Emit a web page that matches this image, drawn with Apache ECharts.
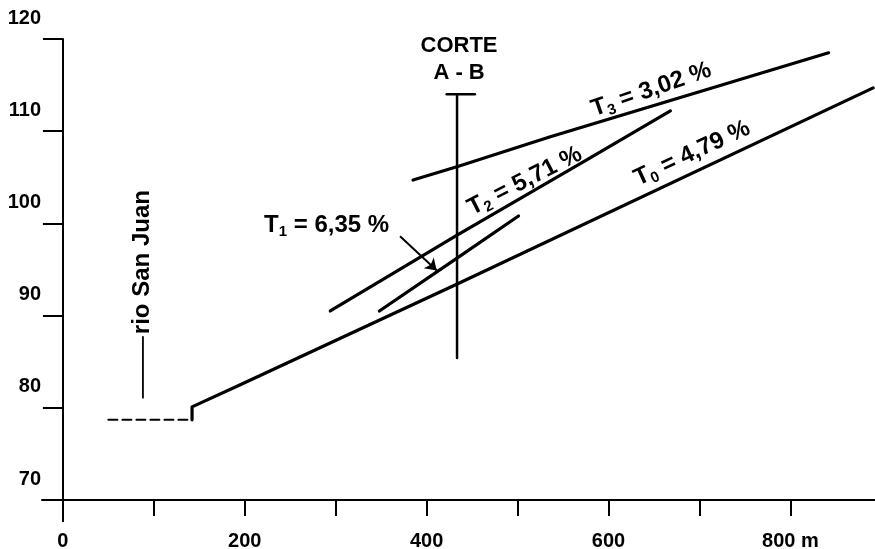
<!DOCTYPE html>
<html>
<head>
<meta charset="utf-8">
<script src="https://cdn.jsdelivr.net/npm/echarts@6/dist/echarts.min.js"></script>
<style>
html,body{margin:0;padding:0;background:#fff;}
#c{width:875px;height:549px;}
</style>
</head>
<body>
<div id="c"></div>
<script>
// ---- data (distance in m, elevation in m) ----
const xTickValues = [100, 200, 300, 400, 500, 600, 700, 800];
const xLabelValues = [0, 200, 400, 600, 800];
const yTickValues = [70, 80, 90, 100, 110, 120];

const riverLevel = [[50, 78.7], [142, 78.7]];
const terraceT0 = [[142, 78.7], [142, 80.1], [195, 82.5], [433, 93.4], [891, 114.7]];
const terraceT1 = [[348, 90.5], [433, 96.2], [501, 100.8]];
const terraceT2 = [[294, 90.5], [433, 98.7], [576, 106.9], [668, 112.2]];
const terraceT3 = [[385, 104.7], [435, 106.2], [536, 109.4], [842, 118.5]];
const corteLine = [[433.4, 85.4], [433.4, 114.0]];
const corteCap = [[422, 114.0], [453, 114.0]];
const riverLeader = [[88, 81.1], [88, 87.7]];
const t1Arrow = [[370.7, 98.6], [411.1, 94.9]];

const labelTexts = ['CORTE', 'A - B', 'T{s|3} = 3,02 %', 'T{s|0} = 4,79 %', 'T{s|2} = 5,71 %', 'T{s|1} = 6,35 %', 'rio San Juan'];
const labelAnchors = [[435.6, 119.2], [435.6, 116.3], [647, 114.5], [692, 107.6], [508, 104.6], [290, 99.8], [87, 95.8]];
const labelAngles = [0, 0, 19, 25, 27, 0, 90];

// ---- chart ----
const FONT = "'Liberation Sans', Arial, sans-serif";
const chart = echarts.init(document.getElementById('c'));

function lineSeries(data, width, type) {
  return {
    type: 'line', data: data, symbol: 'none', silent: true, animation: false,
    xAxisIndex: 0, yAxisIndex: 0,
    lineStyle: { color: '#000', width: width, type: type || 'solid', cap: 'round', join: 'round', opacity: 1 }
  };
}

const labelData = labelTexts.map((t, i) => ({
  value: labelAnchors[i],
  label: { formatter: t, rotate: labelAngles[i], color: '#000', fontSize: (i < 2 ? 22 : 24) }
}));

chart.setOption({
  animation: false,
  backgroundColor: '#fff',
  grid: { left: 42, right: 0, top: 39, bottom: 49, containLabel: false, outerBoundsMode: 'none' },
  xAxis: [{
    type: 'value', min: -23, max: 893, position: 'bottom',
    axisLine: { show: true, onZero: false, lineStyle: { color: '#000', width: 2 } },
    axisTick: { show: true, length: 16, customValues: xTickValues, lineStyle: { color: '#000', width: 2 } },
    axisLabel: {
      customValues: xLabelValues, margin: 31, color: '#000', fontSize: 20, fontFamily: FONT, fontWeight: 'bold',
      formatter: v => (v === 800 ? '800 m' : String(v))
    },
    splitLine: { show: false }
  }, {
    type: 'value', min: -23, max: 893, position: 'bottom',
    axisLine: { show: false },
    axisTick: { show: true, length: 22, customValues: [0], lineStyle: { color: '#000', width: 2 } },
    axisLabel: { show: false },
    splitLine: { show: false }
  }],
  yAxis: {
    type: 'value', min: 70, max: 120, interval: 10,
    axisLine: { show: true, onZero: true, lineStyle: { color: '#000', width: 2 } },
    axisTick: { show: true, length: 20, lineStyle: { color: '#000', width: 2 } },
    axisLabel: {
      color: '#000', fontSize: 20, fontFamily: FONT, fontWeight: 'bold', margin: 1,
      verticalAlign: 'bottom', padding: [0, 0, 11, 0]
    },
    splitLine: { show: false }
  },
  series: [
    lineSeries(riverLevel, 2, [9, 5]),
    lineSeries(terraceT0, 3.2),
    lineSeries(terraceT1, 3.2),
    lineSeries(terraceT2, 3.2),
    lineSeries(terraceT3, 3.2),
    lineSeries(corteLine, 2.5),
    lineSeries(corteCap, 2.5),
    lineSeries(riverLeader, 1.8),
    {
      type: 'lines', coordinateSystem: 'cartesian2d', silent: true, animation: false,
      symbol: ['none', 'arrow'], symbolSize: 11,
      lineStyle: { color: '#000', width: 2, opacity: 1 },
      data: [{ coords: t1Arrow }]
    },
    {
      type: 'scatter', symbolSize: 0, silent: true, animation: false,
      itemStyle: { opacity: 1 },
      data: labelData,
      label: {
        show: true, position: 'inside', color: '#000', fontSize: 24, fontFamily: FONT, fontWeight: 'bold',
        textBorderWidth: 0,
        rich: { s: { fontSize: 15, fontFamily: FONT, fontWeight: 'bold', color: '#000', padding: [13, 0, 0, 0] } }
      }
    }
  ]
});
</script>
</body>
</html>
